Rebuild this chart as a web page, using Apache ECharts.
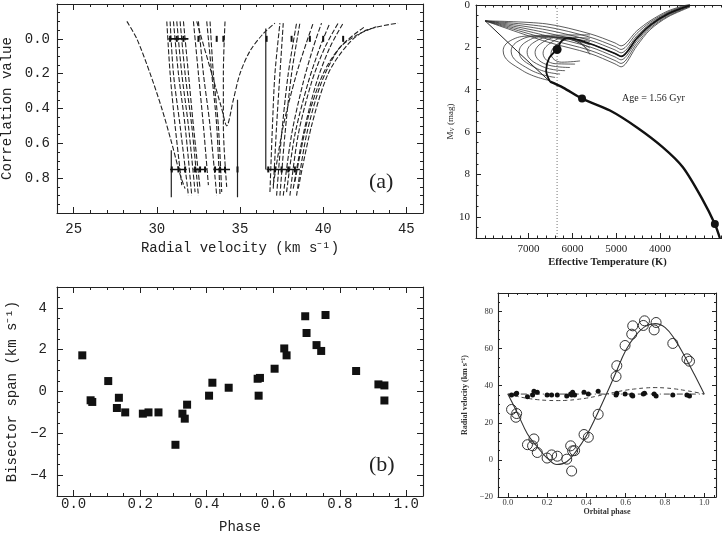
<!DOCTYPE html>
<html><head><meta charset="utf-8">
<script src="https://cdn.jsdelivr.net/npm/echarts@6/dist/echarts.min.js"></script>
<style>html,body{margin:0;padding:0;background:#fff}#c{width:722px;height:538px}</style>
</head><body><div id="c"></div>
<script>
// ---------- Panel (a): cross-correlation profiles ----------
const aLeftCurves = [
  [[28.2,-0.1],[28.8,0.0],[29.6,0.2],[30.3,0.4],[30.9,0.6],[31.4,0.78],[31.7,0.86]],
  [[30.6,-0.1],[30.8,0.2],[31.1,0.5],[31.5,0.84]],
  [[30.8,-0.1],[31.0,0.2],[31.4,0.5],[31.9,0.9]],
  [[31.0,-0.1],[31.3,0.2],[31.7,0.5],[32.1,0.9]],
  [[31.2,-0.1],[31.5,0.2],[31.9,0.5],[32.3,0.88]],
  [[31.4,-0.1],[31.7,0.2],[32.1,0.5],[32.5,0.9]],
  [[31.6,-0.1],[31.9,0.2],[32.2,0.5],[32.6,0.86]],
  [[32.2,-0.1],[32.5,0.2],[32.8,0.5],[33.1,0.84]],
  [[32.5,-0.1],[32.8,0.2],[33.2,0.5],[33.6,0.9]],
  [[33.0,-0.1],[33.3,0.2],[33.6,0.5],[33.8,0.9]],
  [[33.2,-0.1],[33.4,0.2],[33.7,0.5],[33.9,0.88]],
  [[34.1,-0.1],[34.0,0.2],[34.0,0.5],[34.2,0.85]],
  [[32.4,-0.1],[33.3,0.2],[33.9,0.4],[34.2,0.5],[34.6,0.35],[35.0,0.2],[35.6,0.07],[36.4,-0.03],[37.1,-0.09]]
];
const aRightCurves = [
  [[36.8,0.88],[36.95,0.5],[37.1,0.2],[37.4,-0.09]],
  [[37.0,0.86],[37.2,0.5],[37.4,0.2],[37.6,-0.09]],
  [[37.2,0.9],[37.5,0.55],[37.9,0.2],[38.4,-0.09]],
  [[37.4,0.9],[37.7,0.55],[38.1,0.2],[38.6,-0.09]],
  [[37.0,0.84],[37.6,0.5],[38.4,0.2],[39.0,0.02],[39.4,-0.09]],
  [[37.6,0.9],[38.1,0.55],[38.8,0.25],[39.4,0.05],[39.9,-0.09]],
  [[37.8,0.88],[38.3,0.55],[39.1,0.25],[39.8,0.05],[40.4,-0.09]],
  [[38.0,0.9],[38.5,0.55],[39.3,0.25],[40.1,0.05],[40.9,-0.09]],
  [[38.2,0.86],[38.8,0.55],[39.6,0.25],[40.4,0.05],[41.2,-0.09]],
  [[38.4,0.9],[39.0,0.55],[39.9,0.25],[41.0,0.05],[42.5,-0.07]],
  [[38.5,0.86],[39.3,0.5],[40.3,0.2],[41.5,0.03],[42.6,-0.05],[44.5,-0.09]],
  [[38.3,0.82],[39.1,0.45],[40.0,0.2],[41.0,0.05],[42.0,-0.02],[43.2,-0.07]]
];
const aVerticals = [
  [[30.87,0.64],[30.87,0.91]],
  [[34.85,0.35],[34.85,0.91]],
  [[36.55,-0.06],[36.55,0.75]]
];
const aBars = [
  [[30.7,0.0],[31.9,0.0]],
  [[30.8,0.75],[31.8,0.75]],
  [[32.2,0.75],[33.0,0.75]],
  [[33.4,0.75],[34.4,0.75]],
  [[36.6,0.75],[38.6,0.75]]
];
const aMarks0 = [30.8,31.2,31.6,32.5,33.6,34.0,36.6,38.1,39.2,40.0,41.2];
const aMarks75 = [30.9,31.3,31.7,32.3,32.6,32.9,33.5,33.8,34.1,34.85,36.7,37.1,37.5,37.9,38.3];
const aXTicks = [25,30,35,40,45];
const aYTicks = [0,0.2,0.4,0.6,0.8];

// ---------- Panel (b): bisector span vs phase ----------
const bPhase = [0.026,0.051,0.056,0.104,0.13,0.136,0.155,0.208,0.225,0.255,0.306,0.327,0.334,0.341,0.407,0.417,0.466,0.553,0.56,0.556,0.604,0.633,0.64,0.696,0.70,0.73,0.744,0.757,0.849,0.916,0.934,0.934];
const bSpan  = [1.73,-0.42,-0.5,0.5,-0.79,-0.3,-1.0,-1.06,-1.0,-1.0,-2.55,-1.06,-1.3,-0.63,-0.2,0.42,0.18,0.61,0.65,-0.2,1.09,2.06,1.73,3.6,2.8,2.22,1.94,3.66,0.98,0.34,0.29,-0.43];
const bXTicks = [0,0.2,0.4,0.6,0.8,1.0];
const bYTicks = [-4,-2,0,2,4];

// ---------- HR diagram with isochrones ----------
const hrMS = [[2637,11.0],[2751,10.34],[3025,9.21],[3480,7.66],[3936,6.72],[4528,5.78],[5143,4.98],[5781,4.42],[6214,3.9],[6510,3.62]];
const hrUpperMS = [[6510,3.62],[7250,2.2],[7990,0.75]];
const hrBand = [
  [[7990,0.75],[6600,0.89],[5600,1.36],[5030,1.79],[4890,1.93],[4530,1.22],[4230,0.75],[3820,0.28],[3320,-0.05]],
  [[7990,0.75],[6600,1.03],[5600,1.52],[5030,1.96],[4890,2.1],[4530,1.34],[4230,0.82],[3820,0.33],[3320,-0.03]],
  [[7990,0.75],[6600,1.17],[5600,1.67],[5030,2.12],[4890,2.26],[4530,1.46],[4230,0.89],[3820,0.37],[3320,0.0]],
  [[7990,0.75],[6600,1.31],[5600,1.83],[5030,2.29],[4890,2.43],[4530,1.57],[4230,0.96],[3820,0.42],[3320,0.02]],
  [[7990,0.75],[6600,1.45],[5600,1.98],[5030,2.45],[4890,2.59],[4530,1.69],[4230,1.03],[3820,0.47],[3320,0.05]],
  [[7990,0.75],[6600,1.59],[5600,2.14],[5030,2.62],[4890,2.76],[4530,1.81],[4230,1.1],[3820,0.52],[3320,0.07]],
  [[7990,0.75],[6600,1.73],[5600,2.29],[5030,2.78],[4890,2.92],[4530,1.93],[4230,1.17],[3820,0.56],[3320,0.1]]
];
const hrLoops = [
  [[6510,3.57],[7136,3.10],[7580,2.16],[7421,1.69],[6965,1.46],[5600,1.41]],
  [[6396,3.42],[6988,3.03],[7398,2.18],[7239,1.71],[6805,1.48],[5600,1.57]],
  [[6282,3.26],[6840,2.97],[7216,2.21],[7057,1.74],[6645,1.5],[5600,1.72]],
  [[6168,3.1],[6692,2.9],[7034,2.23],[6875,1.76],[6485,1.52],[5600,1.88]],
  [[6054,2.95],[6544,2.84],[6852,2.25],[6693,1.78],[6325,1.54],[5600,2.03]],
  [[5940,2.79],[6396,2.77],[6670,2.28],[6511,1.81],[6165,1.56],[5600,2.19]],
  [[5826,2.64],[6248,2.7],[6488,2.3],[6329,1.83],[6005,1.58],[5600,2.34]]
];
const hrThick = [[6510,3.62],[6600,3.1],[6530,2.5],[6350,2.08],[6250,1.7],[6100,1.55],[5600,1.83],[5030,2.29],[4890,2.43],[4530,1.57],[4230,0.96],[3820,0.42],[3320,0.02]];
const hrDots = [[5781,4.42],[2751,10.34]];
const hrStar = [[6350,2.1]];
const hrTeff = 6350;
const hrXTicks = [4000,5000,6000,7000];
const hrYTicks = [0,2,4,6,8,10];

// ---------- Radial velocity curve ----------
const rvPhaseP = [0.019,0.041,0.045,0.10,0.126,0.133,0.15,0.2,0.223,0.252,0.3,0.32,0.33,0.325,0.34,0.388,0.41,0.46,0.555,0.551,0.597,0.631,0.636,0.696,0.69,0.745,0.755,0.84,0.912,0.925];
const rvP = [27.2,23,25,8.2,7.6,11.3,4,1,2.7,2,0.4,7.6,4.9,-6,5,13.7,12.2,24.6,50.8,45,61.7,67.8,72.3,75,72.5,70.1,74.1,62.8,54.5,53.2];
const rvS = [35,35.5,36,34,35,37,36.5,35,35,35,34.5,35.5,36.5,35,35,36.5,35.5,37,36,35,35.5,35,34.5,36,35.5,35.5,34.5,35,35,34.5];
const fitPhase = [0,0.05,0.1,0.15,0.2,0.25,0.3,0.35,0.4,0.45,0.5,0.55,0.6,0.65,0.7,0.75,0.8,0.85,0.9,0.95,1.0];
const fitP = [35.5,25,14,7,1,-2.5,-1,5,13,23.5,35,47,59,67,72,73.5,71.5,65,56,46,35.5];
const fitS = [35.5,34.2,33.2,32.5,32.1,32,32.1,32.6,33.3,34.3,35.5,36.6,37.6,38.3,38.8,39,38.8,38.3,37.5,36.6,35.5];
const gamma = 35.5;
const rvXTicks = [0,0.2,0.4,0.6,0.8,1.0];
const rvYTicks = [-20,0,20,40,60,80];

// ---------- building ----------
const INK = '#222';
const MONO = 'Liberation Mono';
const SERIF = 'Liberation Serif';
const minus = v => (v < 0 ? '\u2212' + Math.abs(v) : String(v));

// 'minorTick': one axis per side, major interval + minorTick
// 'offsetMajor': minor-tick axes plus extra major-tick axes (custom tick values)
function axes(gi, dim, o, mode) {
  const posA = dim === 'x' ? 'bottom' : 'left';
  const posB = dim === 'x' ? 'top' : 'right';
  const mk = () => ({gridIndex: gi, type: 'value', min: o.min, max: o.max, inverse: !!o.inverse, splitLine: {show: false}});
  const line = () => ({show: true, onZero: false, lineStyle: {color: INK, width: 1.1}});
  const tk = (len, cv) => { const t = {show: true, inside: true, length: len, lineStyle: {color: INK, width: 1}}; if (cv) t.customValues = o.majors.slice(); return t; };
  const label = () => Object.assign({show: true, customValues: o.majors.slice(), formatter: o.fmt, margin: o.margin}, o.labelFont);
  const named = {name: o.name, nameLocation: 'middle', nameGap: o.nameGap, nameTextStyle: o.nameFont};
  if (mode === 'minorTick') {
    const mt = () => ({show: true, splitNumber: o.split, length: o.minorLen, lineStyle: {color: INK, width: 1}});
    return [
      Object.assign(mk(), {position: posA, interval: o.major, axisLine: line(), axisTick: tk(o.majorLen), minorTick: mt(), axisLabel: label()}, named),
      Object.assign(mk(), {position: posB, interval: o.major, axisLine: line(), axisTick: tk(o.majorLen), minorTick: mt(), axisLabel: {show: false}})
    ];
  }
  return [
    Object.assign(mk(), {position: posA, interval: o.minor, axisLine: line(), axisTick: tk(o.minorLen), axisLabel: label()}, named),
    Object.assign(mk(), {position: posB, interval: o.minor, axisLine: line(), axisTick: tk(o.minorLen), axisLabel: {show: false}}),
    Object.assign(mk(), {position: posA, offset: 0.01, axisLine: {show: false, onZero: false}, axisTick: tk(o.majorLen, true), axisLabel: {show: false}}),
    Object.assign(mk(), {position: posB, offset: 0.01, axisLine: {show: false, onZero: false}, axisTick: tk(o.majorLen, true), axisLabel: {show: false}})
  ];
}
const monoLab = () => ({fontFamily: MONO, fontSize: 14, color: INK});
const monoName = () => ({fontFamily: MONO, fontSize: 14, color: INK});
const xAxes = [], yAxes = [], mainX = [], mainY = [];
function addPanel(gi, xo, yo, xmode, ymode) {
  mainX[gi] = xAxes.length; axes(gi, 'x', xo, xmode).forEach(a => xAxes.push(a));
  mainY[gi] = yAxes.length; axes(gi, 'y', yo, ymode).forEach(a => yAxes.push(a));
}
addPanel(0,
  {min: 24, max: 46, minor: 1, majors: aXTicks, fmt: v => String(v), margin: 9, labelFont: monoLab(),
    name: 'Radial velocity (km s\u207B\u00B9)', nameGap: 28, nameFont: monoName(), minorLen: 3, majorLen: 6},
  {min: -0.2, max: 1.0, inverse: true, minor: 0.05, major: 0.2, split: 4, majors: aYTicks, fmt: v => v.toFixed(1), margin: 7,
    labelFont: monoLab(), name: 'Correlation value', nameGap: 35, nameFont: monoName(), minorLen: 3, majorLen: 6},
  'offsetMajor', 'minorTick');
addPanel(1,
  {min: 2200, max: 8200, inverse: true, minor: 200, majors: hrXTicks, fmt: v => String(v), margin: 6,
    labelFont: {fontFamily: SERIF, fontSize: 11, color: INK},
    name: 'Effective Temperature (K)', nameGap: 19, nameFont: {fontFamily: SERIF, fontSize: 10.5, fontWeight: 'bold', color: INK},
    minorLen: 2.5, majorLen: 5},
  {min: 0, max: 11, inverse: true, minor: 0.5, major: 2, split: 4, majors: hrYTicks, fmt: v => String(v), margin: 6,
    labelFont: {fontFamily: SERIF, fontSize: 11, color: INK},
    name: '{m|M}{v|V} (mag)', nameGap: 19,
    nameFont: {fontFamily: SERIF, fontSize: 9, color: INK,
      rich: {m: {fontFamily: SERIF, fontSize: 9, color: INK}, v: {fontFamily: SERIF, fontSize: 6, color: INK, verticalAlign: 'bottom'}}},
    minorLen: 2.5, majorLen: 5},
  'offsetMajor', 'minorTick');
addPanel(2,
  {min: -0.05, max: 1.05, minor: 0.05, majors: bXTicks, fmt: v => v.toFixed(1), margin: 1, labelFont: monoLab(),
    name: 'Phase', nameGap: 24, nameFont: monoName(), minorLen: 3, majorLen: 6},
  {min: -5, max: 5, minor: 0.5, majors: bYTicks, fmt: minus, margin: 10, labelFont: monoLab(),
    name: 'Bisector span (km s\u207B\u00B9)', nameGap: 35, nameFont: monoName(), minorLen: 3, majorLen: 6},
  'offsetMajor', 'offsetMajor');
addPanel(3,
  {min: -0.05, max: 1.06, minor: 0.05, majors: rvXTicks, fmt: v => v.toFixed(1), margin: 1,
    labelFont: {fontFamily: SERIF, fontSize: 8.5, color: '#333'},
    name: 'Orbital phase', nameGap: 10, nameFont: {fontFamily: SERIF, fontSize: 8, fontWeight: 'bold', color: '#333'},
    minorLen: 2, majorLen: 4},
  {min: -20, max: 90, minor: 5, major: 20, split: 4, majors: rvYTicks, fmt: minus, margin: 5,
    labelFont: {fontFamily: SERIF, fontSize: 8.5, color: '#333'},
    name: 'Radial velocity (km s\u207B\u00B9)', nameGap: 29, nameFont: {fontFamily: SERIF, fontSize: 8, fontWeight: 'bold', color: '#333'},
    minorLen: 2, majorLen: 4},
  'offsetMajor', 'minorTick');

const series = [];
function line(gi, data, ls, smooth, z) {
  series.push({type: 'line', xAxisIndex: mainX[gi], yAxisIndex: mainY[gi], data: data, symbol: 'none',
    lineStyle: ls, smooth: smooth || false, silent: true, z: z || 2, clip: true});
}
function scatter(gi, data, opt) {
  series.push(Object.assign({type: 'scatter', xAxisIndex: mainX[gi], yAxisIndex: mainY[gi], data: data, silent: true, z: 5}, opt));
}
// (a)
aLeftCurves.forEach(c => line(0, c, {color: '#222', width: 1.1, type: [5, 2]}, 0.3));
aRightCurves.forEach(c => line(0, c, {color: '#222', width: 1.1, type: [5, 2]}, 0.3));
aVerticals.forEach(c => line(0, c, {color: '#222', width: 1.2}));
aBars.forEach(c => line(0, c, {color: '#111', width: 1.6}));
scatter(0, aMarks0.map(x => [x, 0]), {symbol: 'rect', symbolSize: [2, 6], itemStyle: {color: '#111', opacity: 1}});
scatter(0, aMarks75.map(x => [x, 0.75]), {symbol: 'rect', symbolSize: [2, 6], itemStyle: {color: '#111', opacity: 1}});
// HR
line(1, [[hrTeff, 0], [hrTeff, 11]], {color: '#666', width: 0.9, type: [1, 2]});
hrBand.forEach(c => line(1, c, {color: '#333', width: 0.8}, 0.3));
hrLoops.forEach(c => line(1, c, {color: '#333', width: 0.8}, 0.45));
line(1, hrUpperMS, {color: '#222', width: 1});
line(1, hrMS, {color: '#111', width: 2.4}, 0.3, 3);
line(1, hrThick, {color: '#111', width: 1.8}, 0.3, 3);
scatter(1, hrDots, {symbol: 'circle', symbolSize: 8, itemStyle: {color: '#111', opacity: 1}});
scatter(1, hrStar, {symbol: 'circle', symbolSize: 9, itemStyle: {color: '#111', opacity: 1}});
// (b)
scatter(2, bPhase.map((p, i) => [p, bSpan[i]]), {symbol: 'rect', symbolSize: 8, itemStyle: {color: '#111', opacity: 1}});
// RV
line(3, [[0, gamma], [1, gamma]], {color: '#444', width: 1, type: [6, 3, 1, 3]});
line(3, fitPhase.map((p, i) => [p, fitS[i]]), {color: '#444', width: 1, type: [4, 3]}, 0.4);
line(3, fitPhase.map((p, i) => [p, fitP[i]]), {color: '#333', width: 1.1}, 0.4);
scatter(3, rvPhaseP.map((p, i) => [p, rvS[i]]), {symbol: 'circle', symbolSize: 5, itemStyle: {color: '#111', opacity: 1}});
scatter(3, rvPhaseP.map((p, i) => [p, rvP[i]]), {symbol: 'circle', symbolSize: 10,
  itemStyle: {color: 'rgba(255,255,255,0)', borderColor: '#333', borderWidth: 1, opacity: 1}});

const g = (l, t, w, h) => ({left: l, top: t, width: w, height: h, containLabel: false, outerBoundsMode: 'none'});
const option = {
  animation: false,
  backgroundColor: '#fff',
  grid: [g(57, 4, 366, 209), g(476, 5, 263, 233), g(57, 287, 366, 209), g(498, 293, 218, 204)],
  xAxis: xAxes,
  yAxis: yAxes,
  series: series,
  graphic: [
    {type: 'text', left: 369, top: 171, style: {text: '(a)', font: '22px "Liberation Serif"', fill: INK}},
    {type: 'text', left: 369, top: 454, style: {text: '(b)', font: '22px "Liberation Serif"', fill: INK}},
    {type: 'text', left: 622, top: 93, style: {text: 'Age = 1.56 Gyr', font: '10px "Liberation Serif"', fill: INK}}
  ]
};
const chart = echarts.init(document.getElementById('c'));
chart.setOption(option);
</script></body></html>
